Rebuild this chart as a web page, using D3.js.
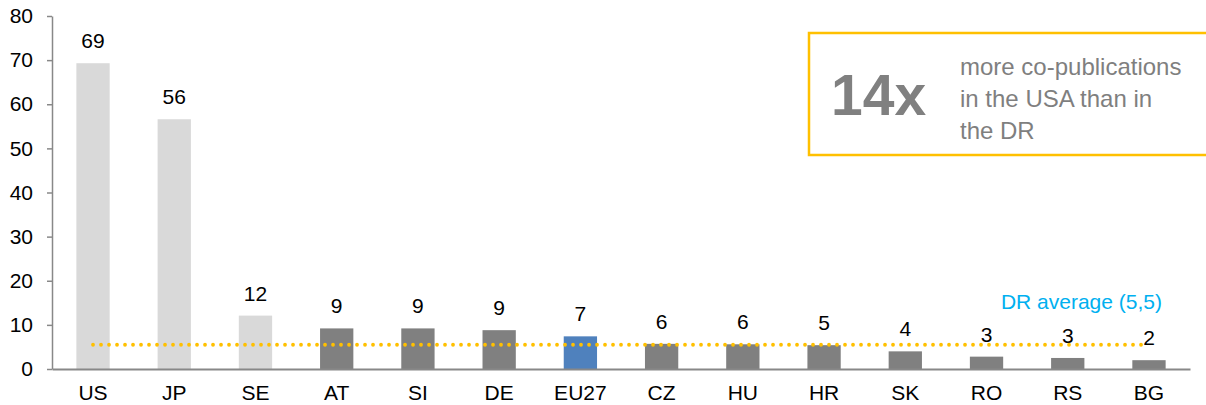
<!DOCTYPE html>
<html>
<head>
<meta charset="utf-8">
<script src="https://cdn.jsdelivr.net/npm/d3@7"></script>
<style>
  body { margin: 0; background: #fff; }
  #chart { width: 1206px; height: 405px; }
  text { font-family: "Liberation Sans", Arial, sans-serif; }
</style>
</head>
<body>
<div id="chart"></div>
<script>
// data
const categories = ["US", "JP", "SE", "AT", "SI", "DE", "EU27", "CZ", "HU", "HR", "SK", "RO", "RS", "BG"];
const values = [69.3, 56.6, 12.1, 9.2, 9.2, 8.8, 7.4, 5.7, 5.6, 5.4, 4.0, 2.8, 2.5, 2.0];
const valueLabels = ["69", "56", "12", "9", "9", "9", "7", "6", "6", "5", "4", "3", "3", "2"];
const groups = ["ref", "ref", "ref", "dr", "dr", "dr", "eu", "dr", "dr", "dr", "dr", "dr", "dr", "dr"];
const yTicks = [0, 10, 20, 30, 40, 50, 60, 70, 80];
const drAverage = 5.5;
const averageLabel = "DR average (5,5)";
const calloutBig = "14x";
const calloutLines = ["more co-publications", "in the USA than in", "the DR"];

const colors = {ref: "#d9d9d9", dr: "#808080", eu: "#4f81bd"};

const margin = {top: 16, right: 16, bottom: 36, left: 52};
const width = 1206 - margin.left - margin.right;
const height = 405 - margin.top - margin.bottom;

const svg = d3.select("#chart")
    .append("svg")
    .attr("width", 1206)
    .attr("height", 405)
    .append("g")
    .attr("transform", `translate(${margin.left},${margin.top})`);

const x = d3.scaleBand()
    .domain(categories)
    .range([0, width])
    .paddingInner(0.59)
    .paddingOuter(0.3);

const y = d3.scaleLinear()
    .domain([0, 80])
    .range([height, 0]);

// bars
svg.selectAll(".bar")
    .data(categories)
    .enter()
    .append("rect")
    .attr("class", "bar")
    .attr("x", d => x(d))
    .attr("width", x.bandwidth())
    .attr("y", (d, i) => y(values[i]))
    .attr("height", (d, i) => height - y(values[i]))
    .attr("fill", (d, i) => colors[groups[i]]);

// value labels
svg.selectAll(".val")
    .data(categories)
    .enter()
    .append("text")
    .attr("class", "val")
    .attr("x", d => x(d) + x.bandwidth() / 2)
    .attr("y", (d, i) => y(values[i]) - 15)
    .attr("text-anchor", "middle")
    .style("font-size", "21px")
    .style("fill", "#000")
    .text((d, i) => valueLabels[i]);

// dotted average line
const first = categories[0], last = categories[categories.length - 1];
svg.append("line")
    .attr("x1", x(first) + x.bandwidth() / 2)
    .attr("x2", x(last) + x.bandwidth() / 2 - 6)
    .attr("y1", y(drAverage))
    .attr("y2", y(drAverage))
    .attr("stroke", "#ffc000")
    .attr("stroke-width", 3.8)
    .attr("stroke-linecap", "round")
    .attr("stroke-dasharray", "0 8");

svg.append("text")
    .attr("x", x(last) + x.bandwidth() / 2 + 13)
    .attr("y", y(drAverage) - 36)
    .attr("text-anchor", "end")
    .style("font-size", "21px")
    .style("fill", "#00b0f0")
    .text(averageLabel);

// y axis
const yAxis = svg.append("g")
    .call(d3.axisLeft(y).tickValues(yTicks).tickSize(5).tickSizeOuter(0).tickPadding(14));
yAxis.select(".domain").attr("stroke", "#888").attr("stroke-width", 1.5);
yAxis.selectAll(".tick line").attr("stroke", "#888").attr("stroke-width", 1.5);
yAxis.selectAll(".tick text")
    .style("font-size", "21px")
    .style("fill", "#000")
    .style("font-family", "Liberation Sans, Arial, sans-serif");

// x axis
const xAxis = svg.append("g")
    .attr("transform", `translate(0,${height})`)
    .call(d3.axisBottom(x).tickSize(0).tickPadding(16));
xAxis.select(".domain").attr("stroke", "#888").attr("stroke-width", 2);
xAxis.selectAll(".tick text")
    .style("font-size", "21px")
    .style("fill", "#000")
    .style("font-family", "Liberation Sans, Arial, sans-serif");

// callout box
const box = svg.append("g")
    .attr("transform", `translate(${809 - margin.left},${33 - margin.top})`);

box.append("rect")
    .attr("x", 0)
    .attr("y", 0)
    .attr("width", 420)
    .attr("height", 122)
    .attr("fill", "#fff")
    .attr("stroke", "#ffc000")
    .attr("stroke-width", 2.5);

box.append("text")
    .attr("x", 22)
    .attr("y", 82)
    .style("font-size", "57px")
    .style("font-weight", "bold")
    .style("fill", "#808080")
    .text(calloutBig);

box.selectAll(".cl")
    .data(calloutLines)
    .enter()
    .append("text")
    .attr("class", "cl")
    .attr("x", 151)
    .attr("y", (d, i) => 42 + i * 32)
    .style("font-size", "24px")
    .style("fill", "#7f7f7f")
    .text(d => d);
</script>
</body>
</html>
